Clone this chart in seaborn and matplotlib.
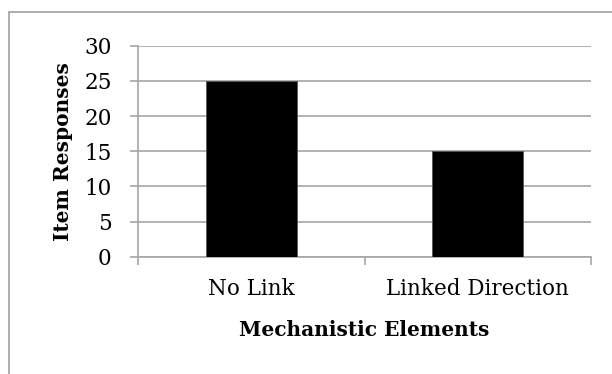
import matplotlib
matplotlib.use("Agg")
import matplotlib.pyplot as plt
from matplotlib.lines import Line2D
import seaborn as sns
import pandas as pd

# Data
categories = ["No Link", "Linked Direction"]
responses = [25, 15]
y_ticks = [0, 5, 10, 15, 20, 25, 30]

x_title = "Mechanistic Elements"
y_title = "Item Responses"

df = pd.DataFrame({"element": categories, "responses": responses})

sns.set_theme(style="white")
plt.rcParams["font.family"] = ["DejaVu Serif"]

W, H = 612, 374
fig = plt.figure(figsize=(W / 100, H / 100), dpi=100)
fig.patch.set_facecolor("white")

# plot area in pixel coordinates
left, right, top, bottom = 138, 591, 45.7, 256.7
ax = fig.add_axes([left / W, 1 - bottom / H, (right - left) / W, (bottom - top) / H])

grid_col = "#a6a6a6"

sns.barplot(data=df, x="element", y="responses", color="black", width=0.4,
            saturation=1, edgecolor="#555555", linewidth=0.6, ax=ax, zorder=3)

ax.set_xlim(-0.5, len(categories) - 0.5)
ax.set_ylim(0, 30)
ax.set_yticks(y_ticks)
ax.yaxis.grid(True, color=grid_col, linewidth=1.2, zorder=0)
ax.set_axisbelow(True)

for s in ("top", "right"):
    ax.spines[s].set_visible(False)
for s in ("left", "bottom"):
    ax.spines[s].set_color(grid_col)
    ax.spines[s].set_linewidth(1.2)

ax.tick_params(axis="y", which="major", length=6, color=grid_col, width=1.2,
               labelsize=15.5, pad=13, left=True)
ax.tick_params(axis="x", which="major", length=0, labelsize=15.5, pad=15)
ax.set_xticks([-0.5, 0.5, 1.5], minor=True)
ax.tick_params(axis="x", which="minor", length=6, color=grid_col, width=1.2, bottom=True)
for lab in ax.get_xticklabels() + ax.get_yticklabels():
    lab.set_color("black")

ax.set_xlabel(x_title, fontsize=14.5, fontweight="bold", color="black", va="center")
ax.xaxis.set_label_coords(0.5, -0.347)
ax.set_ylabel(y_title, fontsize=14.5, fontweight="bold", color="black", va="center")
ax.yaxis.set_label_coords((63 - left) / (right - left), 0.5)

# chart frame
fig.add_artist(Line2D([9 / W, 9 / W], [0, 1 - 12 / H], transform=fig.transFigure,
                      color="#a0a0a0", linewidth=1.2))
fig.add_artist(Line2D([9 / W, 1], [1 - 12 / H, 1 - 12 / H], transform=fig.transFigure,
                      color="#a0a0a0", linewidth=1.2))

fig.savefig("out.png", dpi=100, facecolor="white")
